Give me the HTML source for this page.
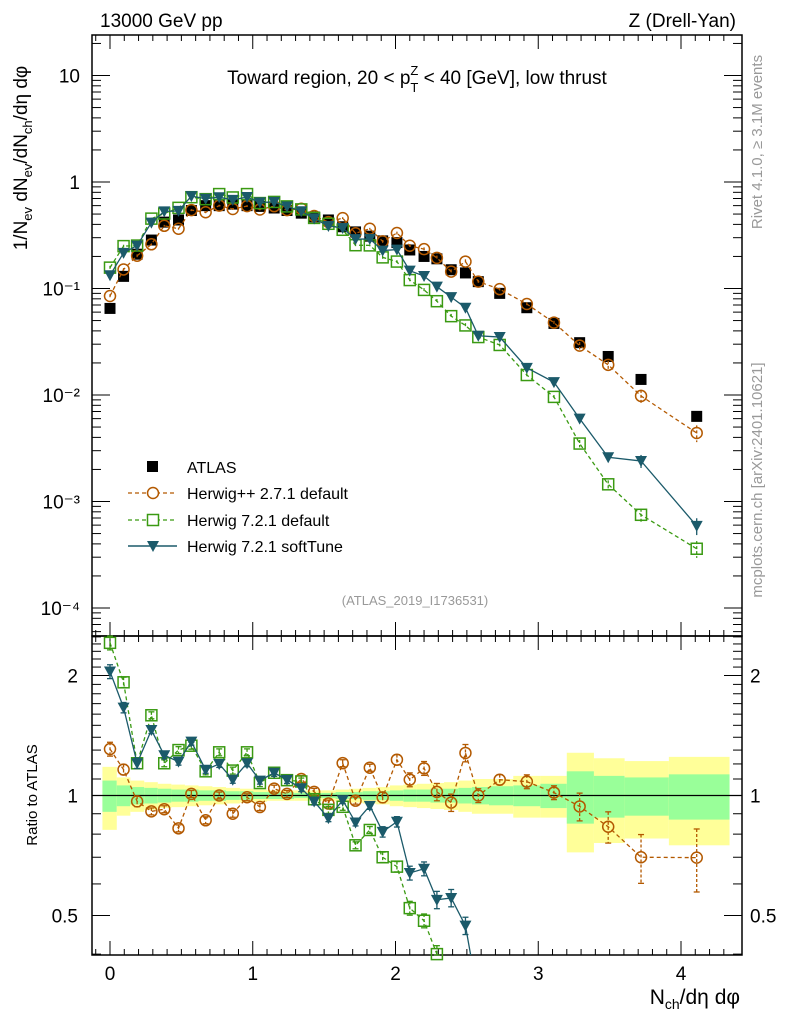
<!DOCTYPE html>
<html><head><meta charset="utf-8"><style>
html,body{margin:0;padding:0;background:#fff;width:786px;height:1024px;overflow:hidden;}
svg{display:block;font-family:"Liberation Sans",sans-serif;overflow:hidden;}
</style></head><body>
<svg id="chart" width="786" height="1024" viewBox="0 0 786 1024" xmlns="http://www.w3.org/2000/svg">
<g id="bands"></g>
<g id="axes"></g>
<g id="series"></g>
<text x="100" y="27" font-size="19">13000 GeV pp</text>
<text x="736" y="27" font-size="19" text-anchor="end">Z (Drell-Yan)</text>
<text x="417" y="84" font-size="19" text-anchor="middle">Toward region, 20 &lt; p<tspan font-size="13" dy="8">T</tspan><tspan font-size="13" dx="-8" dy="-17">Z</tspan><tspan dy="9"> &lt; 40 [GeV], low thrust</tspan></text>
<text x="415" y="605" font-size="13" fill="#999" text-anchor="middle">(ATLAS_2019_I1736531)</text>
<text transform="translate(762,142) rotate(-90)" font-size="15" fill="#999" text-anchor="middle">Rivet 4.1.0, ≥ 3.1M events</text>
<text transform="translate(762,480) rotate(-90)" font-size="15" fill="#999" text-anchor="middle">mcplots.cern.ch [arXiv:2401.10621]</text>
<text transform="translate(27,158) rotate(-90)" font-size="19" text-anchor="middle">1/N<tspan font-size="13" dy="5">ev</tspan><tspan dy="-5"> dN</tspan><tspan font-size="13" dy="5">ev</tspan><tspan dy="-5">/dN</tspan><tspan font-size="13" dy="5">ch</tspan><tspan dy="-5">/dη dφ</tspan></text>
<text transform="translate(37,795) rotate(-90)" font-size="15" text-anchor="middle">Ratio to ATLAS</text>
<text x="740" y="1004" font-size="21" text-anchor="end">N<tspan font-size="14" dy="5">ch</tspan><tspan dy="-5">/dη dφ</tspan></text>
<g>
<rect x="147" y="461" width="11" height="11" fill="#000"/>
<text x="187" y="473" font-size="16">ATLAS</text>
<line x1="128" y1="493" x2="177" y2="493" stroke="#b35900" stroke-dasharray="4,3" stroke-width="1.3"/>
<circle cx="153" cy="493" r="5.5" fill="#fff" stroke="#b35900" stroke-width="1.5"/>
<text x="187" y="499" font-size="16">Herwig++ 2.7.1 default</text>
<line x1="128" y1="520" x2="177" y2="520" stroke="#3a9a12" stroke-dasharray="4,3" stroke-width="1.3"/>
<rect x="147.5" y="514.5" width="11" height="11" fill="#fff" stroke="#3a9a12" stroke-width="1.5"/>
<text x="187" y="526" font-size="16">Herwig 7.2.1 default</text>
<line x1="128" y1="546" x2="177" y2="546" stroke="#1b5a6a" stroke-width="1.5"/>
<path d="M147,541 L159,541 L153,552 Z" fill="#1b5a6a"/>
<text x="187" y="552" font-size="16">Herwig 7.2.1 softTune</text>
</g>
</svg>
<script>
const xVals=[0,0.095,0.19,0.29,0.38,0.48,0.57,0.67,0.765,0.86,0.96,1.05,1.15,1.24,1.34,1.43,1.53,1.63,1.72,1.82,1.91,2.01,2.10,2.20,2.29,2.39,2.49,2.58,2.73,2.92,3.11,3.29,3.49,3.72,4.11];
const atlasVals=[0.065,0.13,0.21,0.285,0.42,0.44,0.54,0.6,0.6,0.62,0.6,0.59,0.57,0.54,0.51,0.47,0.44,0.38,0.34,0.31,0.28,0.27,0.23,0.2,0.19,0.15,0.14,0.116,0.09,0.066,0.047,0.031,0.023,0.014,0.0063];
const herwigppVals=[0.085,0.151,0.203,0.26,0.388,0.364,0.545,0.52,0.6,0.558,0.594,0.552,0.593,0.545,0.561,0.48,0.42,0.458,0.33,0.364,0.277,0.332,0.252,0.234,0.194,0.144,0.179,0.116,0.0986,0.0715,0.0478,0.0291,0.0192,0.0098,0.0044];
const herwig7Vals=[0.157,0.25,0.253,0.453,0.506,0.572,0.72,0.69,0.77,0.716,0.77,0.634,0.65,0.59,0.553,0.46,0.405,0.356,0.255,0.254,0.196,0.179,0.12,0.097,0.076,0.055,0.045,0.035,0.0295,0.0154,0.0096,0.0035,0.00145,0.00075,0.00036];
const softTuneVals=[0.133,0.216,0.253,0.416,0.53,0.535,0.737,0.696,0.72,0.679,0.723,0.643,0.65,0.591,0.532,0.454,0.386,0.37,0.291,0.292,0.227,0.232,0.147,0.131,0.104,0.083,0.066,0.036,0.035,0.018,0.0132,0.006,0.0026,0.0024,0.00059];
const statErr=[0.09,0.06,0.05,0.045,0.04,0.035,0.035,0.03,0.03,0.025,0.025,0.02,0.02,0.02,0.015,0.015,0.015,0.02,0.02,0.025,0.025,0.03,0.035,0.035,0.04,0.04,0.045,0.05,0.055,0.06,0.07,0.15,0.12,0.11,0.13];
const totalErr=[0.18,0.11,0.09,0.08,0.07,0.065,0.06,0.055,0.05,0.045,0.04,0.035,0.03,0.03,0.03,0.03,0.03,0.035,0.04,0.045,0.05,0.06,0.065,0.07,0.075,0.08,0.09,0.1,0.1,0.12,0.12,0.28,0.24,0.22,0.25];
const mcRelErr=[0.04,0.03,0.03,0.02,0.02,0.02,0.02,0.02,0.02,0.02,0.02,0.02,0.02,0.02,0.02,0.02,0.02,0.02,0.02,0.02,0.03,0.03,0.04,0.04,0.05,0.05,0.05,0.04,0.03,0.04,0.04,0.08,0.09,0.14,0.18];
const mainTicks=[10,1,0.1,0.01,0.001,0.0001];
const mainTickLabels=["10","1","10\u207B\u00B9","10\u207B\u00B2","10\u207B\u00B3","10\u207B\u2074"];
const ratioTicks=[2,1,0.5];
const ratioTickLabels=["2","1","0.5"];
const xTicks=[0,1,2,3,4];

const NS="http://www.w3.org/2000/svg";
const L=92,R=742,MT=35,MB=636,RT=636,RB=955;
const X0=110,XS=142.75;
function xs(v){return X0+v*XS;}
function ym(v){return 182-Math.log10(v)*106.5;}
function yr(v){return 795.5-Math.log10(v)*398.6;}
function cl(y,a,b){return Math.max(a,Math.min(b,y));}
function mk(parent,tag,attrs){const e=document.createElementNS(NS,tag);for(const k in attrs)e.setAttribute(k,attrs[k]);parent.appendChild(e);return e;}
const gB=document.getElementById('bands'),gA=document.getElementById('axes'),gS=document.getElementById('series');

for(let i=0;i<xVals.length;i++){
  const lo=i===0?-0.053:(xVals[i-1]+xVals[i])/2;
  const hi=i===xVals.length-1?4.34:(xVals[i]+xVals[i+1])/2;
  const y1=mk(gB,'rect',{x:xs(lo),width:xs(hi)-xs(lo),y:yr(1+totalErr[i]),height:yr(1-totalErr[i])-yr(1+totalErr[i]),fill:'#ffff99'});
  
  
  const g1=mk(gB,'rect',{x:xs(lo),width:xs(hi)-xs(lo),y:yr(1+statErr[i]),height:yr(1-statErr[i])-yr(1+statErr[i]),fill:'#99ff99'});
  
  
}
const f1=mk(gA,'rect',{x:L,y:MT,width:R-L,height:MB-MT,fill:'none',stroke:'#000','stroke-width':1.5});


const f2=mk(gA,'rect',{x:L,y:RT,width:R-L,height:RB-RT,fill:'none',stroke:'#000','stroke-width':1.5});


const ul=mk(gA,'line',{x1:L,x2:R,y1:yr(1),y2:yr(1),stroke:'#000','stroke-width':1.2});


for(let t=-0.1;t<=4.35;t+=0.1){
  const v=Math.round(t*10)/10;const major=Math.abs(v-Math.round(v))<1e-6;const len=major?14:6;const x=xs(v);
  if(x<L||x>R)continue;
  for(const [yb,dir] of [[MB,-1],[MT,1],[RB,-1],[RT,1]]){mk(gA,'line',{x1:x,x2:x,y1:yb,y2:yb+dir*len,stroke:'#000','stroke-width':1});}
}
xTicks.forEach(v=>{const t=mk(gA,'text',{x:xs(v),y:980,'font-size':19,'text-anchor':'middle'});t.textContent=String(v);

});
for(let d=-5;d<=1;d++){for(let m=1;m<10;m++){const v=m*Math.pow(10,d);const y=ym(v);if(y<MT||y>MB)continue;const len=m===1?18:9;
mk(gA,'line',{x1:L,x2:L+len,y1:y,y2:y,stroke:'#000'});mk(gA,'line',{x1:R,x2:R-len,y1:y,y2:y,stroke:'#000'});}}
mainTicks.forEach((v,i)=>{const t=mk(gA,'text',{x:80,y:ym(v)+7,'font-size':19,'text-anchor':'end'});t.textContent=mainTickLabels[i];

});
for(let k=4;k<=25;k++){const v=k/10;const y=yr(v);if(y<RT||y>RB)continue;const major=(k===5||k===10||k===20);const len=major?18:9;
mk(gA,'line',{x1:L,x2:L+len,y1:y,y2:y,stroke:'#000'});mk(gA,'line',{x1:R,x2:R-len,y1:y,y2:y,stroke:'#000'});}
ratioTicks.forEach((v,i)=>{const t=mk(gA,'text',{x:78,y:yr(v)+7,'font-size':19,'text-anchor':'end'});t.textContent=ratioTickLabels[i];


const t2=mk(gA,'text',{x:750,y:yr(v)+7,'font-size':19,'fill':'#000'});t2.textContent=ratioTickLabels[i];

});

const gm=mk(gS,'g',{}),gr=mk(gS,'g',{});

atlasVals.forEach((v,i)=>{const r=mk(gm,'rect',{x:xs(xVals[i])-5.5,y:ym(v)-5.5,width:11,height:11,fill:'#000'});

});

function marker(g,type,x,y,col){
  let e;
  if(type==='circle')e=mk(g,'circle',{cx:x,cy:y,r:5.5,fill:'none',stroke:col,'stroke-width':1.5});
  else if(type==='square')e=mk(g,'rect',{x:x-5.5,y:y-5.5,width:11,height:11,fill:'none',stroke:col,'stroke-width':1.5});
  else e=mk(g,'path',{d:`M${x-6},${y-5} L${x+6},${y-5} L${x},${y+6} Z`,fill:col});
  return e;
}
// clip polyline in y range [a,b]; returns path d
function clipPath(pts,a,b){
  let d='';let pen=false;
  for(let i=0;i<pts.length-1;i++){
    let [x1,y1]=pts[i],[x2,y2]=pts[i+1];
    if((y1>b&&y2>b)||(y1<a&&y2<a)){pen=false;continue;}
    const f=(yy)=>x1+(x2-x1)*(yy-y1)/(y2-y1);
    let sx=x1,sy=y1,ex=x2,ey=y2;
    if(y1>b){sx=f(b);sy=b;} if(y1<a){sx=f(a);sy=a;}
    if(y2>b){ex=f(b);ey=b;} if(y2<a){ex=f(a);ey=a;}
    if(!pen||sy!==y1){d+=`M${sx},${sy}`;}
    d+=`L${ex},${ey}`;pen=(ey===y2);
  }
  return d;
}
const series=[{vals:herwigppVals,col:'#b35900',type:'circle',dash:'4,3',name:'herwigpp'},
{vals:herwig7Vals,col:'#3a9a12',type:'square',dash:'4,3',name:'herwig7'},
{vals:softTuneVals,col:'#1b5a6a',type:'tri',dash:null,name:'softtune'}];
series.forEach(s=>{
  const pm=s.vals.map((v,i)=>xs(xVals[i])+','+ym(v)).join(' ');
  const prPts=s.vals.map((v,i)=>[xs(xVals[i]),yr(v/atlasVals[i])]);
  const a={fill:'none',stroke:s.col,'stroke-width':1.3};if(s.dash)a['stroke-dasharray']=s.dash;
  const l1=mk(gm,'polyline',Object.assign({points:pm},a));
  
  
  const l2=mk(gr,'path',Object.assign({d:clipPath(prPts,RT,RB)},a));
  
  
  s.vals.forEach((v,i)=>{
    const x=xs(xVals[i]);const e=mcRelErr[i];const r=v/atlasVals[i];
    const ea={stroke:s.col,'stroke-width':1.3};if(s.dash)ea['stroke-dasharray']='3,2';
    mk(gm,'line',Object.assign({x1:x,x2:x,y1:ym(v*(1+e)),y2:ym(v*(1-e))},ea));
    const m1=marker(gm,s.type,x,ym(v),s.col);
    
    
    const ry=yr(r);
    if(ry<RT-2||ry>RB+2)return;
    const ya=cl(yr(r*(1+e)),RT,RB),yb=cl(yr(r*(1-e)),RT,RB);
    mk(gr,'line',Object.assign({x1:x,x2:x,y1:ya,y2:yb},ea));
    mk(gr,'line',{x1:x-3,x2:x+3,y1:ya,y2:ya,stroke:s.col,'stroke-width':1.3});
    mk(gr,'line',{x1:x-3,x2:x+3,y1:yb,y2:yb,stroke:s.col,'stroke-width':1.3});
    const m2=marker(gr,s.type,x,ry,s.col);
    
    
  });
});
</script>
</body></html>
